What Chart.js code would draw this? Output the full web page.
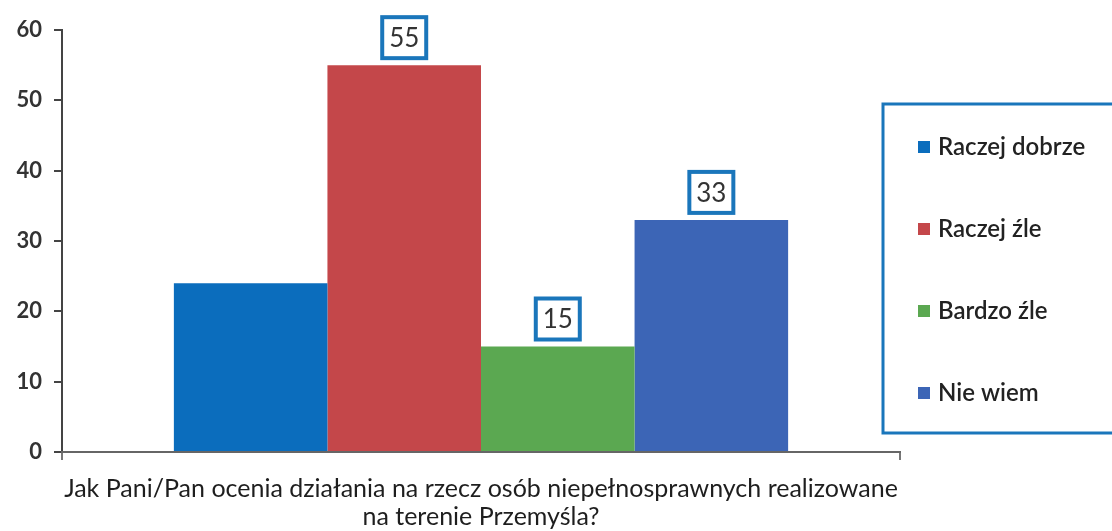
<!DOCTYPE html>
<html>
<head>
<meta charset="utf-8">
<script src="https://cdn.jsdelivr.net/npm/chart.js@4"></script>
<style>
  html, body { margin: 0; padding: 0; background: #fff; }
  #wrap { width: 1112px; height: 531px; }
</style>
</head>
<body>
<div id="wrap"><canvas id="survey-chart"></canvas></div>
<script>
const answers = ['Raczej dobrze', 'Raczej źle', 'Bardzo źle', 'Nie wiem'];
const counts = [24, 55, 15, 33];
const showValue = [false, true, true, true];
const barColors = ['#0b6dbd', '#c4474a', '#5ba851', '#3c65b6'];
const question = ['Jak Pani/Pan ocenia działania na rzecz osób niepełnosprawnych realizowane', 'na terenie Przemyśla?'];
const FONT = 'Lato, "Open Sans", sans-serif';

// boxed value labels above bars
const valueBoxes = {
  id: 'valueBoxes',
  afterDatasetsDraw(chart) {
    const ctx = chart.ctx;
    ctx.save();
    chart.data.datasets.forEach((ds, i) => {
      if (!showValue[i]) return;
      const bar = chart.getDatasetMeta(i).data[0];
      const w = 44, h = 41;
      const x = bar.x - w / 2, y = bar.y - 7 - h;
      ctx.fillStyle = '#fff';
      ctx.fillRect(x, y, w, h);
      ctx.lineWidth = 4;
      ctx.strokeStyle = '#1a76bb';
      ctx.strokeRect(x, y, w, h);
      ctx.fillStyle = '#333';
      ctx.font = '26px ' + FONT;
      ctx.textAlign = 'center';
      ctx.textBaseline = 'middle';
      ctx.fillText(String(ds.data[0]), bar.x, y + h / 2 + 1);
    });
    ctx.restore();
  }
};

// framed legend on the right
const sideLegend = {
  id: 'sideLegend',
  afterDraw(chart) {
    const ctx = chart.ctx;
    ctx.save();
    ctx.lineWidth = 3;
    ctx.strokeStyle = '#1a76bb';
    ctx.strokeRect(883, 104, 240, 329);
    ctx.font = '600 24px ' + FONT;
    ctx.textBaseline = 'middle';
    ctx.textAlign = 'left';
    chart.data.datasets.forEach((ds, i) => {
      const y = 147 + i * 82;
      ctx.fillStyle = ds.backgroundColor;
      ctx.fillRect(918, y - 6, 12, 12);
      ctx.fillStyle = '#222';
      ctx.fillText(ds.label, 938, y);
    });
    ctx.restore();
  }
};

new Chart(document.getElementById('survey-chart'), {
  type: 'bar',
  data: {
    labels: [''],
    datasets: answers.map((a, i) => ({
      label: a,
      data: [counts[i]],
      backgroundColor: barColors[i],
      borderWidth: 0
    }))
  },
  options: {
    responsive: true,
    maintainAspectRatio: false,
    animation: false,
    layout: { padding: { top: 30, right: 212, left: 0, bottom: 0 } },
    datasets: { bar: { categoryPercentage: 0.733, barPercentage: 1 } },
    plugins: { legend: { display: false }, tooltip: { enabled: false } },
    scales: {
      y: {
        min: 0, max: 60,
        ticks: { stepSize: 10, color: '#333', font: { family: FONT, size: 22, weight: 'bold' }, padding: 12 },
        grid: { drawOnChartArea: false, drawTicks: true, tickLength: 8, color: '#444', lineWidth: 2 },
        border: { color: '#444', width: 2 },
        afterFit(s) { s.width = 62; }
      },
      x: {
        ticks: { display: false },
        grid: { drawOnChartArea: false, drawTicks: true, tickLength: 8, color: '#777', lineWidth: 2 },
        border: { color: '#666', width: 2 },
        title: {
          display: true,
          text: question,
          color: '#1e1e1e',
          font: { family: FONT, size: 25, lineHeight: 1.12 },
          padding: { top: 0, bottom: 0 }
        },
        afterFit(s) { s.height = 79; }
      }
    }
  },
  plugins: [valueBoxes, sideLegend]
});
</script>
</body>
</html>
